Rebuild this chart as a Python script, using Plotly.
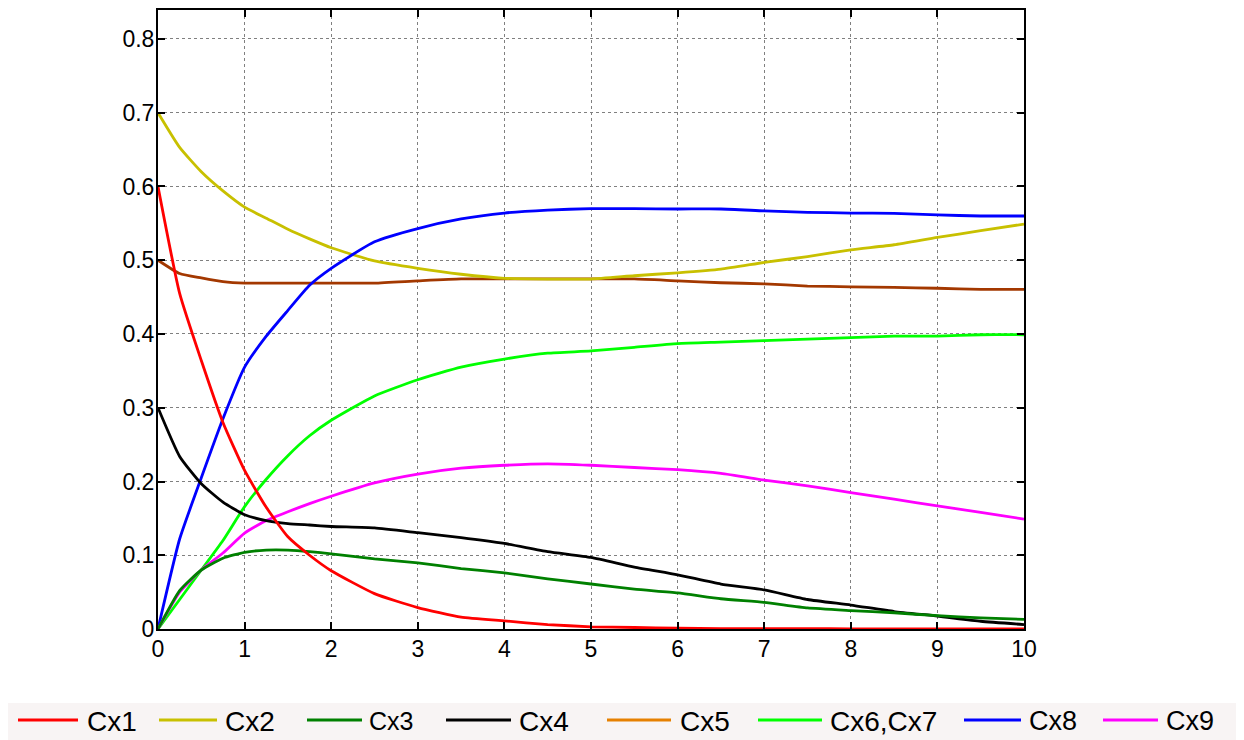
import plotly.graph_objects as go

# ---------------- data ----------------
t = [0, 0.25, 0.5, 0.75, 1, 1.25, 1.5, 1.75, 2, 2.5, 3, 3.5, 4, 4.5, 5,
     5.5, 6, 6.5, 7, 7.5, 8, 8.5, 9, 9.5, 10]

cx1 = [0.600, 0.455, 0.364, 0.280, 0.215, 0.165, 0.125, 0.100, 0.079, 0.048,
       0.029, 0.016, 0.011, 0.006, 0.003, 0.002, 0.001, 0.0006, 0.0005, 0.0004,
       0.0003, 0.0003, 0.0002, 0.0002, 0.0002]
cx2 = [0.700, 0.653, 0.620, 0.594, 0.572, 0.557, 0.542, 0.529, 0.517, 0.499,
       0.489, 0.481, 0.4755, 0.4745, 0.4745, 0.479, 0.483, 0.488, 0.497, 0.505,
       0.514, 0.521, 0.531, 0.540, 0.549]
cx3 = [0.000, 0.052, 0.080, 0.096, 0.104, 0.107, 0.107, 0.105, 0.102, 0.095,
       0.0896, 0.082, 0.076, 0.068, 0.061, 0.054, 0.049, 0.041, 0.036, 0.0285,
       0.025, 0.022, 0.018, 0.015, 0.013]
cx4 = [0.300, 0.234, 0.197, 0.172, 0.155, 0.147, 0.143, 0.141, 0.139, 0.137,
       0.1306, 0.124, 0.116, 0.105, 0.097, 0.084, 0.0735, 0.061, 0.053, 0.040,
       0.0325, 0.0237, 0.0175, 0.0105, 0.006]
cx5 = [0.500, 0.482, 0.476, 0.471, 0.469, 0.469, 0.469, 0.469, 0.469, 0.469,
       0.472, 0.4746, 0.4746, 0.4746, 0.4746, 0.4746, 0.472, 0.4695, 0.468, 0.465,
       0.464, 0.4632, 0.462, 0.4605, 0.4605]
cx67 = [0.000, 0.040, 0.080, 0.120, 0.166, 0.203, 0.235, 0.262, 0.283, 0.316,
        0.338, 0.355, 0.366, 0.374, 0.377, 0.382, 0.387, 0.389, 0.391, 0.393,
        0.395, 0.397, 0.397, 0.399, 0.399]
cx8 = [0.000, 0.122, 0.205, 0.285, 0.355, 0.397, 0.432, 0.466, 0.489, 0.525,
       0.543, 0.556, 0.564, 0.568, 0.570, 0.570, 0.5695, 0.5695, 0.567, 0.565,
       0.564, 0.5635, 0.5614, 0.560, 0.560]
cx9 = [0.000, 0.050, 0.080, 0.103, 0.130, 0.147, 0.159, 0.170, 0.180, 0.198,
       0.210, 0.218, 0.222, 0.224, 0.222, 0.219, 0.216, 0.211, 0.202, 0.194,
       0.185, 0.176, 0.167, 0.158, 0.149]

names = ["Cx1", "Cx2", "Cx3", "Cx4", "Cx5", "Cx6,Cx7", "Cx8", "Cx9"]
series = [cx1, cx2, cx3, cx4, cx5, cx67, cx8, cx9]

x_ticks = [0, 1, 2, 3, 4, 5, 6, 7, 8, 9, 10]
y_ticks = [0, 0.1, 0.2, 0.3, 0.4, 0.5, 0.6, 0.7, 0.8]
y_tick_text = ["0", "0.1", "0.2", "0.3", "0.4", "0.5", "0.6", "0.7", "0.8"]

# ---------------- styles ----------------
line_colors = ["#ff0000", "#c8c000", "#008000", "#000000", "#a33800",
               "#00ff00", "#0000ff", "#ff00ff"]
legend_colors = ["#ff0000", "#c8c000", "#008000", "#000000", "#e68000",
                 "#00ff00", "#0000ff", "#ff00ff"]

fig = go.Figure()
draw_order = [4, 1, 6, 5, 7, 3, 2, 0]
for i in draw_order:
    fig.add_trace(go.Scatter(x=t, y=series[i], mode="lines", name=names[i],
                             line=dict(color=line_colors[i], width=2.8,
                                       shape="spline", smoothing=0.5),
                             showlegend=False))

# ---------------- layout (the page has an 8px body margin) ----------------
OFF = 8
FIG_W, FIG_H = 1244 - OFF, 740 - OFF
L, T, W, H = 158 - OFF, 10 - OFF, 866, 619


def px(xp):
    # xp: pixel x in the screenshot
    return (xp - OFF - L) / W


def py(yp):
    # yp: pixel y in the screenshot
    return (T + H - (yp - OFF)) / H


fig.add_shape(type="rect", xref="paper", yref="paper",
              x0=px(8), x1=px(1240), y0=py(703), y1=py(740),
              fillcolor="#f8f4f4", line=dict(width=0), layer="below")

leg_line_x = [(18, 78), (159, 217), (307, 362), (446, 511), (607, 671),
              (758, 822), (964, 1021), (1103, 1158)]
leg_text_x = [85, 223, 367, 517, 678, 828, 1027, 1164]
leg_font = [28, 28, 25, 28, 28, 28, 27, 27]
leg_y = 720

for i, name in enumerate(names):
    x0, x1 = leg_line_x[i]
    fig.add_shape(type="line", xref="paper", yref="paper",
                  x0=px(x0), x1=px(x1), y0=py(leg_y), y1=py(leg_y),
                  line=dict(color=legend_colors[i], width=3))
    fig.add_annotation(xref="paper", yref="paper", x=px(leg_text_x[i]), y=py(leg_y + 1),
                       xanchor="left", yanchor="middle", showarrow=False,
                       text=name,
                       font=dict(family="Liberation Sans, Arial", size=leg_font[i],
                                 color="#000000"))

axis_common = dict(showline=True, linecolor="#000000", linewidth=2,
                   mirror="allticks", ticks="inside", ticklen=7, tickwidth=1.5,
                   tickcolor="#000000", showgrid=True, gridcolor="#808080",
                   gridwidth=1, griddash="dot", zeroline=False,
                   tickfont=dict(family="Liberation Sans, Arial", size=23,
                                 color="#000000"))

fig.update_xaxes(range=[0, 10], tickvals=x_ticks, ticklabelstandoff=-2,
                 **axis_common)
fig.update_yaxes(range=[0, 0.8393], tickvals=y_ticks, ticktext=y_tick_text,
                 ticklabelstandoff=-3, **axis_common)

fig.update_layout(width=FIG_W, height=FIG_H,
                  margin=dict(l=L, r=FIG_W - L - W, t=T, b=FIG_H - T - H,
                              autoexpand=False),
                  paper_bgcolor="#ffffff", plot_bgcolor="#ffffff",
                  showlegend=False)

fig.write_html("out.html")
